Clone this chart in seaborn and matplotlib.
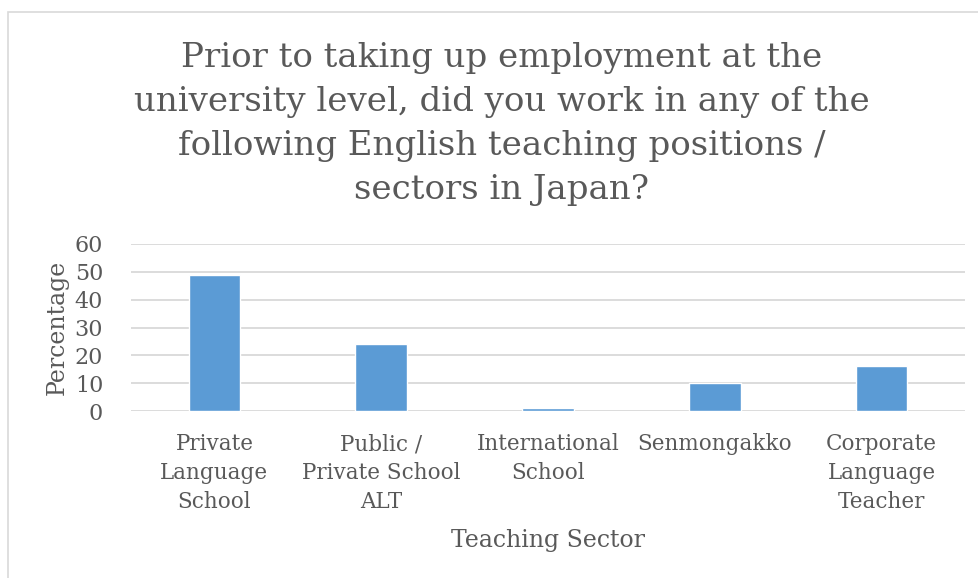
import matplotlib
matplotlib.use("Agg")
import matplotlib.pyplot as plt
from matplotlib.patches import Rectangle
import seaborn as sns
import pandas as pd

sectors = [
    "Private\nLanguage\nSchool",
    "Public /\nPrivate School\nALT",
    "International\nSchool",
    "Senmongakko",
    "Corporate\nLanguage\nTeacher",
]
percentages = [49, 24, 1, 10, 16]
y_ticks = [0, 10, 20, 30, 40, 50, 60]

title = ("Prior to taking up employment at the\n"
         "university level, did you work in any of the\n"
         "following English teaching positions /\n"
         "sectors in Japan?")

TEXT = "#595959"
GRID = "#D9D9D9"
BAR = "#5B9BD5"
FONT = "DejaVu Serif"

sns.set_theme(style="white")
plt.rcParams["font.family"] = [FONT]

df = pd.DataFrame({"Sector": sectors, "Percentage": percentages})

W, H = 979, 578
fig = plt.figure(figsize=(W / 100, H / 100), dpi=100)
fig.patch.set_facecolor("white")

# outer chart frame
fig.patches.append(Rectangle((8 / W, -0.01), 1.0, 1 - 12 / H + 0.01,
                             transform=fig.transFigure, fill=False,
                             edgecolor=GRID, linewidth=1.2))

ax = fig.add_axes([131 / W, (H - 411) / H, 834 / W, 167 / H])
sns.barplot(data=df, x="Sector", y="Percentage", color=BAR, width=0.31,
            saturation=1, ax=ax, zorder=3)

ax.set_ylim(0, 60)
ax.set_xlim(-0.5, len(sectors) - 0.5)
ax.set_yticks(y_ticks)
ax.grid(axis="y", color=GRID, linewidth=1.3, zorder=0)
ax.grid(axis="x", visible=False)
for s in ax.spines.values():
    s.set_visible(False)

ax.tick_params(axis="y", length=0, pad=20, labelsize=16, labelcolor=TEXT)
ax.tick_params(axis="x", length=0, pad=16, labelsize=15.5, labelcolor=TEXT)
for lbl in ax.get_xticklabels():
    lbl.set_linespacing(1.4)
    lbl.set_multialignment("center")

ax.set_xlabel("Teaching Sector", fontsize=17, color=TEXT, labelpad=12)
ax.set_ylabel("Percentage", fontsize=17, color=TEXT, labelpad=4)

fig.text(502 / W, 1 - 124 / H, title, ha="center", va="center",
         fontsize=24.5, color=TEXT, linespacing=1.47)

fig.savefig("out.png", dpi=100)
